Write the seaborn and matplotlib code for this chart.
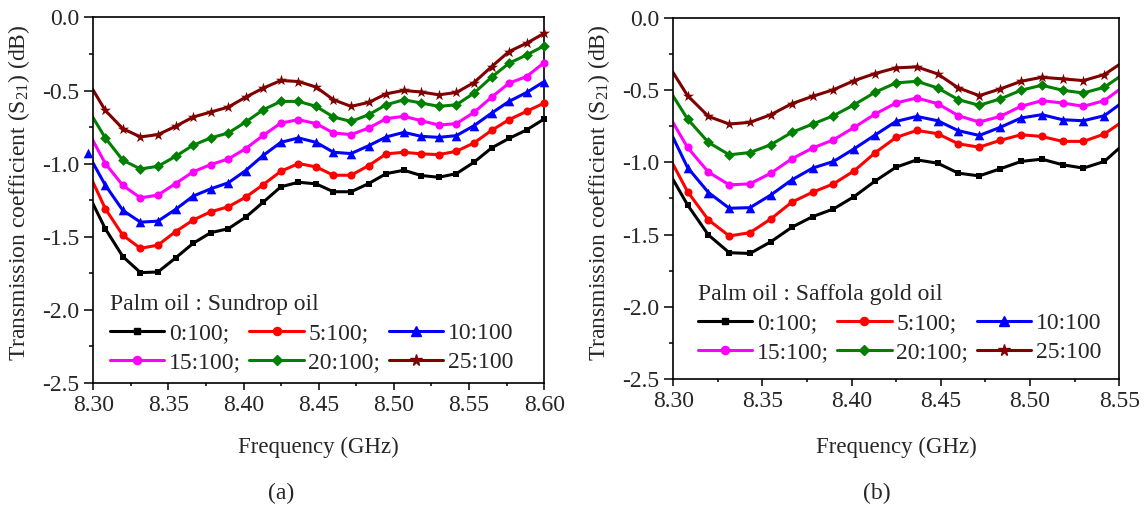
import pandas as pd
import matplotlib.pyplot as plt
from matplotlib.lines import Line2D
from matplotlib.ticker import MultipleLocator, FormatStrFormatter
import seaborn as sns

# frequency grid (GHz); first point sits just left of 8.30 and is clipped
freq_a = [8.2963, 8.3080, 8.3197, 8.3314, 8.3430, 8.3547, 8.3664, 8.3781, 8.3898,
          8.4014, 8.4131, 8.4248, 8.4365, 8.4482, 8.4598, 8.4715, 8.4832, 8.4949,
          8.5066, 8.5182, 8.5299, 8.5416, 8.5533, 8.5650, 8.5766, 8.5883, 8.6000]
freq_b = [8.2963, 8.3080, 8.3197, 8.3314, 8.3430, 8.3547, 8.3664, 8.3781, 8.3898,
          8.4014, 8.4131, 8.4248, 8.4365, 8.4482, 8.4598, 8.4715, 8.4832, 8.4949,
          8.5066, 8.5182, 8.5299, 8.5416, 8.5533]

ratios = ["0:100", "5:100", "10:100", "15:100", "20:100", "25:100"]
legend_labels = ["0:100;", "5:100;", "10:100", "15:100;", "20:100;", "25:100"]

# (a) Palm oil : Sundrop oil
a_0 = [-1.202, -1.445, -1.636, -1.745, -1.741, -1.645, -1.545, -1.472, -1.445, -1.366,
       -1.263, -1.158, -1.127, -1.138, -1.192, -1.192, -1.136, -1.068, -1.045, -1.081,
       -1.093, -1.068, -0.990, -0.892, -0.827, -0.769, -0.694]
a_5 = [-1.049, -1.308, -1.490, -1.579, -1.557, -1.465, -1.386, -1.329, -1.295, -1.229,
       -1.143, -1.052, -0.999, -1.022, -1.079, -1.079, -1.013, -0.933, -0.922, -0.933,
       -0.938, -0.915, -0.858, -0.772, -0.699, -0.642, -0.585]
a_10 = [-0.930, -1.147, -1.320, -1.400, -1.393, -1.313, -1.222, -1.172, -1.131, -1.047,
        -0.943, -0.854, -0.824, -0.854, -0.922, -0.931, -0.877, -0.817, -0.786, -0.813,
        -0.820, -0.808, -0.740, -0.654, -0.574, -0.513, -0.438]
a_15 = [-0.776, -0.999, -1.149, -1.234, -1.215, -1.136, -1.056, -1.006, -0.968, -0.897,
        -0.806, -0.722, -0.699, -0.726, -0.790, -0.801, -0.756, -0.692, -0.676, -0.706,
        -0.736, -0.726, -0.649, -0.545, -0.449, -0.404, -0.308]
a_20 = [-0.625, -0.824, -0.977, -1.036, -1.018, -0.950, -0.874, -0.824, -0.790, -0.715,
        -0.631, -0.574, -0.574, -0.608, -0.681, -0.711, -0.665, -0.597, -0.563, -0.585,
        -0.608, -0.597, -0.517, -0.408, -0.313, -0.256, -0.194]
a_25 = [-0.435, -0.636, -0.761, -0.817, -0.801, -0.745, -0.681, -0.647, -0.613, -0.545,
        -0.483, -0.431, -0.438, -0.476, -0.563, -0.608, -0.581, -0.522, -0.499, -0.510,
        -0.529, -0.513, -0.445, -0.336, -0.233, -0.176, -0.108]

# (b) Palm oil : Saffola gold oil
b_0 = [-1.042, -1.295, -1.503, -1.626, -1.631, -1.550, -1.450, -1.376, -1.323, -1.237,
       -1.130, -1.034, -0.983, -1.006, -1.075, -1.094, -1.045, -0.994, -0.978, -1.017,
       -1.040, -0.994, -0.865]
b_5 = [-0.931, -1.203, -1.399, -1.510, -1.487, -1.392, -1.276, -1.207, -1.149, -1.059,
       -0.934, -0.828, -0.779, -0.802, -0.872, -0.895, -0.848, -0.809, -0.821, -0.855,
       -0.855, -0.804, -0.705]
b_10 = [-0.737, -1.036, -1.209, -1.318, -1.314, -1.226, -1.122, -1.040, -0.994, -0.906,
        -0.811, -0.717, -0.682, -0.712, -0.781, -0.814, -0.758, -0.693, -0.670, -0.705,
        -0.712, -0.677, -0.571]
b_15 = [-0.650, -0.897, -1.068, -1.156, -1.149, -1.075, -0.976, -0.901, -0.844, -0.758,
        -0.666, -0.589, -0.554, -0.594, -0.677, -0.721, -0.682, -0.612, -0.573, -0.589,
        -0.612, -0.573, -0.467]
b_20 = [-0.470, -0.700, -0.862, -0.948, -0.932, -0.878, -0.793, -0.735, -0.677, -0.601,
        -0.515, -0.450, -0.439, -0.485, -0.566, -0.605, -0.561, -0.501, -0.466, -0.501,
        -0.520, -0.480, -0.381]
b_25 = [-0.308, -0.538, -0.682, -0.735, -0.723, -0.670, -0.594, -0.543, -0.497, -0.434,
        -0.385, -0.346, -0.339, -0.388, -0.485, -0.538, -0.492, -0.439, -0.411, -0.422,
        -0.434, -0.392, -0.296]

colors = ["#000000", "#ff0000", "#0000ff", "#ff00ff", "#008000", "#800000"]
markers = ["s", "o", "^", "o", "D", "*"]
marker_area = [24, 34, 48, 34, 30, 70]


def to_long(freq, series):
    rows = []
    for ratio, vals in zip(ratios, series):
        for f, v in zip(freq, vals):
            rows.append({"freq": f, "s21": v, "ratio": ratio})
    return pd.DataFrame(rows)


def draw_panel(ax, df, xmax, title, anchor, keep_edge=()):
    for ratio, color, marker, area in zip(ratios, colors, markers, marker_area):
        sub = df[df["ratio"] == ratio]
        sns.lineplot(data=sub, x="freq", y="s21", color=color, lw=2.2,
                     sort=False, estimator=None, ax=ax)
        if ratio in keep_edge:
            shown = sub[sub["freq"] <= xmax + 1e-6]
        else:
            shown = sub[(sub["freq"] >= 8.30) & (sub["freq"] <= xmax + 1e-6)]
        sns.scatterplot(data=shown, x="freq", y="s21", color=color, marker=marker,
                        s=area, linewidth=0, clip_on=False, zorder=3, ax=ax)

    ax.set_xlim(8.30, xmax)
    ax.set_ylim(-2.5, 0.0)
    ax.xaxis.set_major_locator(MultipleLocator(0.05))
    ax.xaxis.set_minor_locator(MultipleLocator(0.025))
    ax.yaxis.set_major_locator(MultipleLocator(0.5))
    ax.yaxis.set_minor_locator(MultipleLocator(0.25))
    ax.xaxis.set_major_formatter(FormatStrFormatter("%.2f"))
    ax.yaxis.set_major_formatter(FormatStrFormatter("%.1f"))
    ax.tick_params(axis="both", which="both", direction="out", width=1.1,
                   labelsize=17, color="black")
    ax.tick_params(axis="y", which="major", length=6.5)
    ax.tick_params(axis="y", which="minor", length=3)
    ax.tick_params(axis="x", which="major", length=5)
    ax.tick_params(axis="x", which="minor", length=2.5)
    for sp in ax.spines.values():
        sp.set_linewidth(1.2)
        sp.set_color("black")

    ax.set_xlabel("Frequency (GHz)", fontsize=16.5)
    ax.set_ylabel(r"Transmission coefficient (S$_{21}$) (dB)", fontsize=17)

    order = [0, 3, 1, 4, 2, 5]
    handles = [Line2D([], [], color=colors[i], marker=markers[i], lw=2.2,
                      ms=marker_area[i] ** 0.5) for i in order]
    labels = [legend_labels[i] for i in order]
    ax.legend(handles, labels, title=title, ncol=3, loc="lower left",
              bbox_to_anchor=anchor, frameon=False, fontsize=17, title_fontsize=17,
              handlelength=2.3, handletextpad=0.2, columnspacing=0.35,
              labelspacing=0.32, borderpad=0, borderaxespad=0, alignment="left")


sns.set_style("ticks")
plt.rcParams["font.family"] = ["Liberation Serif", "DejaVu Serif"]
plt.rcParams["mathtext.default"] = "regular"
plt.rcParams["axes.unicode_minus"] = False

df_a = to_long(freq_a, [a_0, a_5, a_10, a_15, a_20, a_25])
df_b = to_long(freq_b, [b_0, b_5, b_10, b_15, b_20, b_25])

fig = plt.figure(figsize=(11.46, 5.08), dpi=100)
ax_a = fig.add_axes([0.0814, 0.2461, 0.3935, 0.7195])
ax_b = fig.add_axes([0.5875, 0.2541, 0.3892, 0.7106])

draw_panel(ax_a, df_a, 8.60, "Palm oil : Sundrop oil", (0.037, 0.027), keep_edge=("10:100",))
draw_panel(ax_b, df_b, 8.55, "Palm oil : Saffola gold oil", (0.055, 0.044))

ax_a.xaxis.set_label_coords(0.5, -0.175)
ax_b.xaxis.set_label_coords(0.5, -0.19)
for ax in (ax_a, ax_b):
    ax.xaxis.label.set_va("center")
ax_a.yaxis.set_label_coords(-0.136, 0.52)
ax_b.yaxis.set_label_coords(-0.137, 0.515)

fig.text(0.245, 0.028, "(a)", fontsize=17, ha="center", va="center")
fig.text(0.765, 0.028, "(b)", fontsize=17, ha="center", va="center")

fig.savefig("out.png", dpi=100)
plt.close(fig)
